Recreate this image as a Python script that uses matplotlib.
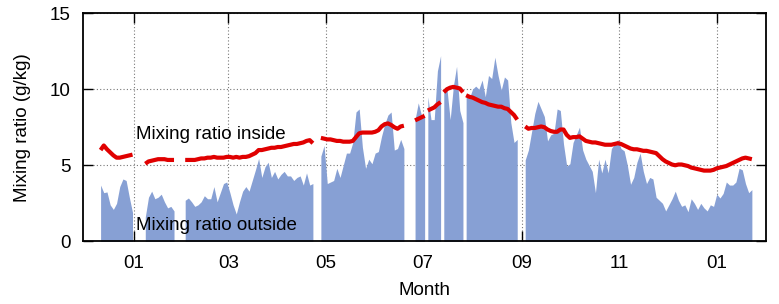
import matplotlib
matplotlib.use("Agg")
import matplotlib.pyplot as plt
import matplotlib.dates as mdates
import pandas as pd
import numpy as np

plt.rcParams['font.family'] = ['Liberation Sans', 'DejaVu Sans']

# Segment start dates (values every 2 days)
seg_starts = ['2012-12-11', '2013-01-08', '2013-02-02', '2013-04-28', '2013-06-26',
              '2013-07-04', '2013-07-14', '2013-07-28', '2013-09-03']

outside_1 = [3.7, 3.2, 3.25, 2.4, 2.1, 2.5, 3.6, 4.1, 4.0, 2.9, 1.9]
outside_2 = [1.6, 2.9, 3.3, 2.8, 2.9, 3.1, 2.6, 2.2, 2.3, 2.0]
outside_3 = [2.7, 2.85, 2.6, 2.3, 2.4, 2.6, 3.0, 2.8, 2.8, 3.6, 2.6, 3.2, 3.8, 3.9, 3.2,
             2.4, 1.8, 2.6, 3.3, 3.6, 3.3, 4.0, 4.7, 5.45, 4.2, 4.9, 5.2, 4.2, 4.6, 4.1,
             4.4, 4.6, 4.3, 4.3, 4.0, 4.2, 4.3, 3.7, 4.5, 3.7, 3.8]
outside_4 = [5.6, 6.3, 3.8, 3.9, 4.0, 4.8, 4.2, 5.0, 5.8, 5.8, 6.5, 8.5, 8.7, 6.2, 4.8,
             5.4, 5.1, 5.8, 5.9, 6.9, 7.7, 8.3, 8.5, 6.0, 6.1, 6.7, 6.1]
outside_5 = [8.0, 9.1, 8.3, 8.2]
outside_6 = [9.5, 8.0, 8.0, 11.2, 12.2]
outside_7 = [9.85, 10.0, 8.0, 10.2, 11.5, 8.6, 7.8]
outside_8 = [9.5, 9.4, 10.0, 10.2, 10.0, 10.6, 9.5, 10.9, 10.7, 12.1, 10.9, 9.95, 10.8,
             10.6, 7.8, 6.5, 6.7]
outside_9 = [5.35, 6.0, 7.2, 8.4, 9.2, 8.7, 8.2, 6.6, 7.0, 7.1, 8.7, 8.6, 6.4, 4.95, 5.1,
             6.5, 7.0, 7.5, 6.0, 5.4, 5.0, 4.6, 3.2, 5.4, 4.5, 5.4, 4.5, 6.1, 6.4, 6.7,
             6.1, 5.95, 5.0, 3.75, 4.2, 5.2, 5.8, 4.6, 3.8, 4.2, 4.1, 2.9, 2.7, 2.5, 2.0,
             2.4, 2.8, 3.3, 2.7, 2.3, 2.4, 1.95, 2.8, 2.5, 2.1, 2.5, 2.2, 2.0, 2.4, 2.3,
             3.1, 2.85, 3.15, 3.9, 3.7, 3.7, 3.9, 4.8, 4.7, 3.8, 3.2, 3.4]

inside_1 = [6.0, 6.3, 6.05, 5.85, 5.65, 5.5, 5.5, 5.55, 5.6, 5.65, 5.7]
inside_2 = [5.1, 5.25, 5.3, 5.35, 5.4, 5.4, 5.4, 5.35, 5.35, 5.35]
inside_3 = [5.35, 5.35, 5.35, 5.35, 5.4, 5.45, 5.45, 5.5, 5.5, 5.55, 5.5, 5.5, 5.5, 5.55,
            5.55, 5.5, 5.55, 5.5, 5.55, 5.55, 5.6, 5.7, 5.8, 6.0, 6.0, 6.05, 6.1, 6.15,
            6.15, 6.2, 6.2, 6.25, 6.3, 6.35, 6.4, 6.4, 6.45, 6.5, 6.6, 6.65, 6.45]
inside_4 = [6.8, 6.75, 6.7, 6.7, 6.65, 6.6, 6.6, 6.55, 6.55, 6.55, 6.6, 6.85, 7.1, 7.15,
            7.15, 7.15, 7.15, 7.2, 7.3, 7.55, 7.7, 7.75, 7.65, 7.5, 7.4, 7.55, 7.6]
inside_5 = [7.95, 8.05, 8.15, 8.25]
inside_6 = [8.6, 8.7, 8.8, 9.0, 9.15]
inside_7 = [9.8, 10.0, 10.1, 10.15, 10.1, 10.05, 9.8]
inside_8 = [9.6, 9.5, 9.45, 9.35, 9.25, 9.15, 9.1, 9.0, 8.95, 8.9, 8.85, 8.85, 8.75, 8.7,
            8.5, 8.3, 8.0]
inside_9 = [7.55, 7.4, 7.45, 7.45, 7.5, 7.55, 7.5, 7.35, 7.25, 7.2, 7.2, 7.35, 7.35, 7.0,
            6.8, 6.85, 6.85, 6.9, 6.75, 6.6, 6.55, 6.5, 6.5, 6.45, 6.4, 6.35, 6.35, 6.35,
            6.4, 6.45, 6.4, 6.3, 6.2, 6.1, 6.05, 6.05, 6.0, 5.95, 5.95, 5.9, 5.85, 5.8,
            5.6, 5.4, 5.25, 5.15, 5.05, 5.0, 5.05, 5.05, 5.0, 4.95, 4.85, 4.8, 4.75, 4.7,
            4.65, 4.65, 4.65, 4.7, 4.8, 4.85, 4.9, 4.95, 5.05, 5.15, 5.25, 5.35, 5.45, 5.5,
            5.45, 5.4]

outside = [outside_1, outside_2, outside_3, outside_4, outside_5, outside_6, outside_7,
           outside_8, outside_9]
inside = [inside_1, inside_2, inside_3, inside_4, inside_5, inside_6, inside_7,
          inside_8, inside_9]

xtick_dates = ['2013-01-01', '2013-03-01', '2013-05-01', '2013-07-01', '2013-09-01',
               '2013-11-01', '2014-01-01']
yticks = [0, 5, 10, 15]

fill_color = '#87a0d4'
line_color = '#e00000'
FS = 13.5

fig = plt.figure(figsize=(7.79, 3.04), dpi=100)
ax = fig.add_axes([0.107, 0.206, 0.876, 0.751])

for start, o, i in zip(seg_starts, outside, inside):
    d = pd.date_range(start, periods=len(o), freq='2D')
    ax.fill_between(d, 0, o, color=fill_color, linewidth=0, zorder=2)
    ax.plot(d, i, color=line_color, linewidth=3, zorder=3, solid_capstyle='butt')

base = pd.Timestamp('2013-01-01')
ax.set_xlim(base - pd.Timedelta(days=31.8), base + pd.Timedelta(days=395.7))
ax.set_ylim(0, 15)
ax.set_xticks(pd.to_datetime(xtick_dates))
ax.xaxis.set_major_formatter(mdates.DateFormatter('%m'))
ax.set_yticks(yticks)

ax.set_axisbelow(True)
ax.grid(True, color='#777777', linestyle=(0, (1, 2)), linewidth=0.8)
ax.tick_params(direction='in', top=True, right=True, length=7, width=1,
               labelsize=FS, colors='black')
ax.tick_params(axis='x', pad=10)
ax.tick_params(axis='y', pad=9)
for s in ax.spines.values():
    s.set_linewidth(1.3)
    s.set_zorder(5)

ax.set_xlabel('Month', fontsize=FS, labelpad=7)
ax.set_ylabel('Mixing ratio (g/kg)', fontsize=FS, labelpad=14)

ax.text(base + pd.Timedelta(days=1.3), 7.0, 'Mixing ratio inside', fontsize=FS,
        va='center', ha='left', zorder=6)
ax.text(base + pd.Timedelta(days=1.3), 1.07, 'Mixing ratio outside', fontsize=FS,
        va='center', ha='left', zorder=6)

fig.savefig('out.png', dpi=100)
